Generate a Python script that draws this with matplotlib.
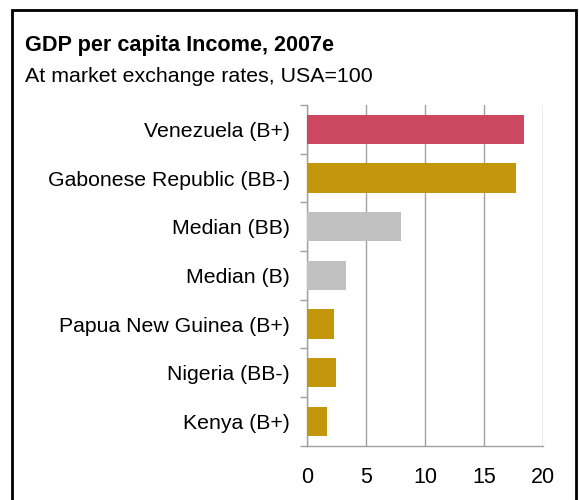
import matplotlib
matplotlib.use("Agg")
import matplotlib.pyplot as plt
from matplotlib.patches import Rectangle
import numpy as np

plt.rcParams['font.family'] = ['Liberation Sans', 'DejaVu Sans']

categories = ["Venezuela (B+)", "Gabonese Republic (BB-)", "Median (BB)",
              "Median (B)", "Papua New Guinea (B+)", "Nigeria (BB-)", "Kenya (B+)"]
values = [18.4, 17.7, 7.9, 3.3, 2.3, 2.4, 1.7]
bar_colors = ["#CC4860", "#C4960C", "#C0C0C0", "#C0C0C0", "#C4960C", "#C4960C", "#C4960C"]
x_ticks = [0, 5, 10, 15, 20]

W, H = 579, 500
fig = plt.figure(figsize=(W / 100, H / 100), dpi=100)

# outer frame (open at the bottom edge)
fig.patches.append(Rectangle((12 / W, -0.05), (576 - 12) / W, 1.05 - 10 / H,
                             transform=fig.transFigure, fill=False,
                             edgecolor="black", linewidth=2))

fig.text(25 / W, 1 - 45 / H, "GDP per capita Income, 2007e", fontsize=15.6,
         fontweight="bold", va="center", ha="left")
fig.text(25 / W, 1 - 76 / H, "At market exchange rates, USA=100", fontsize=15.4,
         va="center", ha="left")

ax = fig.add_axes([307.3 / W, 1 - 445.7 / H, 236 / W, (445.7 - 105) / H])
y = np.arange(len(categories))
ax.barh(y, values, height=0.6, color=bar_colors, zorder=3)

ax.set_xlim(0, 20)
ax.set_ylim(len(categories) - 0.5, -0.5)
ax.set_xticks(x_ticks)
ax.set_xticklabels([str(t) for t in x_ticks], fontsize=15.5)
ax.set_yticks(y)
ax.set_yticklabels(categories, fontsize=15.3)
ax.set_yticks(np.arange(-0.5, len(categories)), minor=True)

grid_c = "#A0A0A0"
ax.grid(axis="x", color=grid_c, linewidth=1, zorder=0)
for s in ["top", "right"]:
    ax.spines[s].set_visible(False)
for s in ["left", "bottom"]:
    ax.spines[s].set_color(grid_c)
    ax.spines[s].set_linewidth(1)

ax.tick_params(axis="y", which="major", length=0, pad=12.5)
ax.tick_params(axis="y", which="minor", length=5, color=grid_c, width=1)
ax.tick_params(axis="x", length=0, pad=15)

fig.savefig("out.png", dpi=100)
